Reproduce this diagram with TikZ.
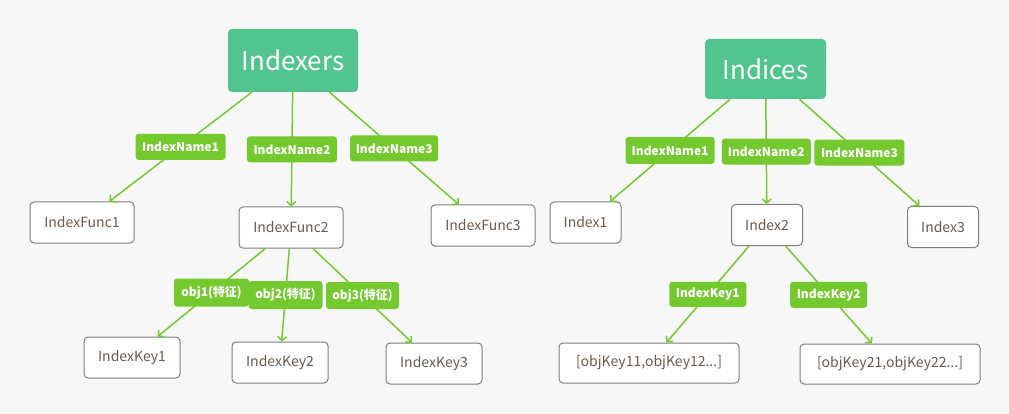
\documentclass[tikz,border=0pt]{standalone}
\usepackage{fontspec}
\setmainfont{Noto Sans CJK SC}
\usepackage{tikz}
\usetikzlibrary{%
  positioning
 ,arrows.meta
}
\definecolor{bgcol}{HTML}{F7F7F7}
\definecolor{rootcol}{HTML}{52C48E}
\definecolor{linkcol}{HTML}{74C92F}
\definecolor{boxline}{HTML}{7F7F7F}
\definecolor{boxtext}{HTML}{6B5A4D}
\tikzstyle{tree}=[x=1pt,y=-1pt,on grid,inner sep=0pt]
\tikzstyle{root}=[rectangle,rounded corners=4pt,fill=rootcol,text=white,font=\fontsize{26}{30}\selectfont]
\tikzstyle{box}=[rectangle,rounded corners=4pt,draw=boxline,line width=1pt,fill=white,text=boxtext,minimum height=41pt,font=\fontsize{14}{16}\selectfont]
\tikzstyle{lbl}=[rectangle,rounded corners=3pt,fill=linkcol,text=white,font=\bfseries\fontsize{12}{14}\selectfont]
\tikzstyle{link}=[draw=linkcol,line width=1.5pt,-{Straight Barb[length=4pt,width=9pt,line width=1.5pt]}]

\begin{document}
\begin{tikzpicture}[tree]
  \fill[bgcol] (0,0) rectangle (1009,414);
  % left tree
  \node[root,minimum width=130pt,minimum height=63pt] (Indexers) at (293,60.5) {Indexers};
  \node[box,minimum width=104pt,below left=162pt and 211pt of Indexers] (func1) {IndexFunc1};
  \node[box,minimum width=104pt,below left=167pt and 2pt of Indexers] (func2) {IndexFunc2};
  \node[box,minimum width=104pt,below right=165pt and 190pt of Indexers] (func3) {IndexFunc3};
  \node[box,minimum width=96pt,below left=130pt and 159pt of func2] (key1) {IndexKey1};
  \node[box,minimum width=96pt,below left=135pt and 11pt of func2] (key2) {IndexKey2};
  \node[box,minimum width=96pt,below right=136pt and 143pt of func2] (key3) {IndexKey3};
% 
  \path[link]
  (Indexers) edge node[lbl,minimum width=90pt,minimum height=26pt] {IndexName1} (func1)
  (Indexers) edge node[lbl,minimum width=90pt,minimum height=26pt] {IndexName2} (func2)
  (Indexers) edge node[lbl,minimum width=88pt,minimum height=26pt] {IndexName3} (func3)
  (func2) edge node[lbl,minimum width=75pt,minimum height=28pt] {obj1(特征)} (key1)
  (func2) edge node[lbl,minimum width=74pt,minimum height=28pt] {obj2(特征)} (key2)
  (func2) edge node[lbl,minimum width=73pt,minimum height=27pt] {obj3(特征)} (key3);
  % right tree
  \node[root,minimum width=121pt,minimum height=60pt] (Indices) at (765.5,69) {Indices};
  \node[box,minimum width=71pt,below left=153.5pt and 180pt of Indices] (idx1) {Index1};
  \node[box,minimum width=71pt,below right=156pt and 1.5pt of Indices] (idx2) {Index2};
  \node[box,minimum width=71pt,below right=158pt and 177.5pt of Indices] (idx3) {Index3};
  \node[box,minimum width=180pt,minimum height=40pt,below left=138pt and 118pt of idx2] (objs1) {[objKey11,objKey12...]};
  \node[box,minimum width=180pt,minimum height=40pt,below right=139pt and 123pt of idx2] (objs2) {[objKey21,objKey22...]};
% 
  \path[link]
  (Indices) edge node[lbl,minimum width=89pt,minimum height=27pt] {IndexName1} (idx1)
  (Indices) edge node[lbl,minimum width=89pt,minimum height=26pt] {IndexName2} (idx2)
  (Indices) edge node[lbl,minimum width=90pt,minimum height=26pt] {IndexName3} (idx3)
  (idx2) edge node[lbl,minimum width=77pt,minimum height=25pt] {IndexKey1} (objs1)
  (idx2) edge node[lbl,minimum width=77pt,minimum height=26pt] {IndexKey2} (objs2);
\end{tikzpicture}
\end{document}
